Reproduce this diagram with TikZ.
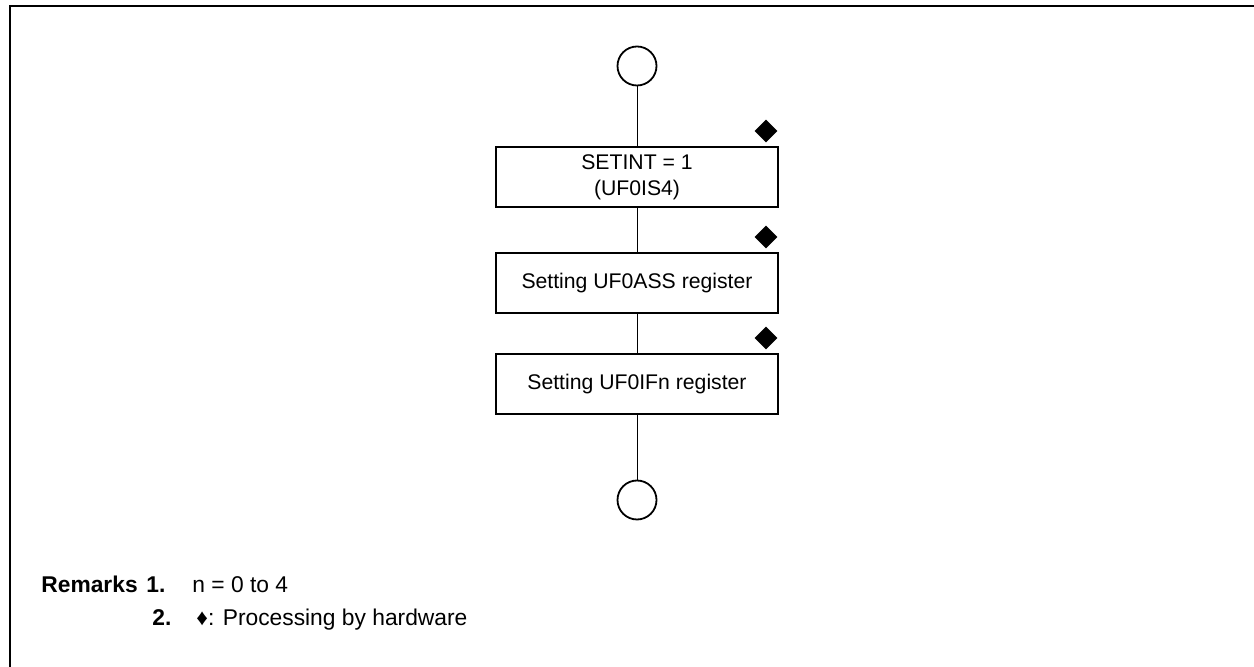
\documentclass[tikz,border=0pt]{standalone}
\usepackage{fontspec}
\setmainfont{Liberation Sans}
\usetikzlibrary{shapes.geometric}
\tikzset{
proc/.style={draw,line width=0.8pt,minimum width=141pt,minimum height=30pt,align=center,inner sep=0pt,font=\fontsize{10.6}{13}\selectfont},
term/.style={circle,draw,line width=0.9pt,minimum size=19.5pt,inner sep=0pt},
hw/.style={diamond,fill,inner sep=0pt,minimum width=11.5pt,minimum height=11.5pt},
rem/.style={anchor=base west,inner sep=0pt,font=\fontsize{11.4}{14}\selectfont},
remb/.style={rem,font=\fontsize{11.4}{14}\selectfont\bfseries}
}
\begin{document}
\begin{tikzpicture}[x=0.5pt,y=-0.5pt]
\useasboundingbox(0,0)rectangle(1254,667);
\draw[line width=1pt](9.5,667)--(9.5,6.5)--(1254,6.5);
\node[term](start)at(637,66){};
\node[proc](setint)at(637,177){SETINT = 1\\(UF0IS4)};
\node[proc](ass)at(637,283){Setting UF0ASS register};
\node[proc](ifn)at(637,384){Setting UF0IFn register};
\node[term](stop)at(637,500){};
\node[hw](hwa)at(766,131){};
\node[hw](hwb)at(766,237){};
\node[hw](hwc)at(766,338){};
\draw[line width=0.5pt](start)--(setint);
\draw[line width=0.5pt](setint)--(ass);
\draw[line width=0.5pt](ass)--(ifn);
\draw[line width=0.5pt](ifn)--(stop);
\node[remb](remarks)at(41,593){Remarks};
\node[remb](one)at(146,593){1.};
\node[rem](rema)at(192,593){n = 0 to 4};
\node[remb](two)at(152,626){2.};
\node[rem](remhw)at(196,626){♦: Processing by hardware};
\end{tikzpicture}
\end{document}
